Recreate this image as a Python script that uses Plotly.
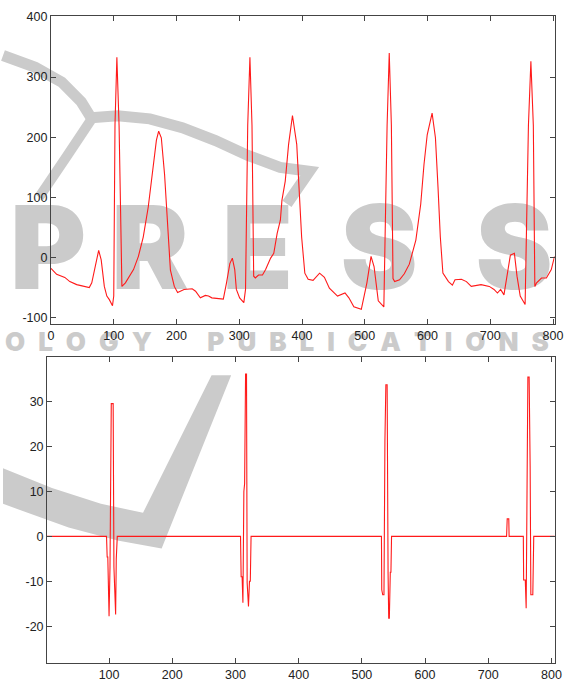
import plotly.graph_objects as go

# ---------------- data ----------------
ecg_x = [0, 9, 22, 30, 41, 51, 61, 65, 72, 76, 80, 85, 89, 93, 98, 100, 102, 105, 108.5, 111, 113,
         118.6, 123.7, 131.5, 139.3, 147, 155, 162.7, 168, 171.6, 175.8, 181, 186, 190.3, 196.5, 201.8,
         212, 225, 230.4, 238, 246, 251, 256.3, 274.6, 279.7, 285, 289, 292.8, 295.4, 300.6, 307.3,
         310, 313.5, 317, 320.3, 323, 325.6, 330.7, 337, 342, 350, 355, 360.4, 365.5, 368, 373.3, 378.6,
         384.8, 391.6, 395.2, 399.4, 404.5, 409.8, 417.6, 428, 435.7, 443.6, 456.6, 468.5, 474.7, 482.6,
         494.5, 503.4, 510, 514.8, 521.5, 530.4, 535.6, 539, 542.4, 545, 547.6, 555.4, 563, 571, 581.4,
         589.2, 594.4, 599.5, 607.3, 612.6, 616.7, 620.4, 624.5, 633.4, 639.6, 643.8, 654, 662, 669.7,
         685.3, 698.4, 706, 711.4, 716.5, 721.8, 727, 732, 738.4, 742.6, 747.7, 755.5, 760.8, 764.7,
         768.6, 771, 773.8, 781.6, 789.4, 797.2, 802.4]
ecg_y = [-18, -28, -33, -40, -45, -47, -50, -42, -10, 12, -4, -48, -64, -70, -80, -64, 220, 333, 220, 56, -48,
         -42, -34, -20, 2, 34, 84, 150, 195, 210, 199, 138, 56, -21, -48, -58,
         -53, -52, -56, -67, -63, -64, -67, -69, -42, -10, -1, -20, -53, -67, -75,
         -53, 220, 333, 220, -31, -34, -29, -29, -20, -1, 7, 40, 62, 95, 127, 188,
         236, 188, 117, 34, -26, -36, -38, -26, -33, -51, -64, -59, -67, -82,
         -86, -42, 2, -15, -72, -82, 220, 340, 220, -35, -40, -37, -27, -11, 29,
         89, 155, 204, 240, 199, 117, 34, -26, -40, -46, -37, -36, -40, -48,
         -45, -48, -53, -59, -53, -62, -26, 4, 7, -31, -64, -78, 220, 326,
         220, -48, -42, -34, -34, -20, 2]

det_x = [0, 96, 97, 98, 100, 101.5, 103.5, 106.5, 107.7, 109.3, 110.4, 111.4, 113,
         308, 309, 310.5, 311.8, 313.3, 314.5, 316, 317.5, 318, 318.5, 320.6, 322.2, 323.5, 324.7,
         531, 531.5, 533, 535, 536.5, 538, 540, 540.5, 541.5, 542.5, 543.5, 545, 546, 547,
         729, 730, 732.5, 733,
         755.5, 756, 758.6, 760, 761.2, 762.7, 764.7, 765.3, 766.3, 767.4, 770.5, 772, 806]
det_y = [0, 0, -4.6, -4.6, -17.8, -6.8, 29.6, 29.6, -6.8, -17.4, -17.4, -5, 0,
         0, -9, -9, -14.8, 10, 11.8, 36.2, 36.2, 12, -10.3, -15.6, -10, -10, 0,
         0, -11.9, -13, -13, 21.2, 33.8, 33.8, 0, -8.2, -18.2, -18.2, -8, -8, 0,
         0, 3.9, 3.9, 0,
         0, -9.7, -9.7, -16, 10.1, 35.5, 35.5, 15.6, 15.6, -13, -13, 0, 0]

top_xticks = [0, 100, 200, 300, 400, 500, 600, 700, 800]
top_yticks = [-100, 0, 100, 200, 300, 400]
bot_xticks = [100, 200, 300, 400, 500, 600, 700, 800]
bot_yticks = [-20, -10, 0, 10, 20, 30]

# watermark texts (background logo)
SP = "\u2002"
wm_text = ["P", "R", "E", "S", "S", SP.join("OLOGY"), SP.join("PUBLICATIONS")]

# ---------------- figure ----------------
W, H = 578, 684
RED = "#ff1a1a"
WM = "#cbcbcb"


def px(x):
    return x / W


def py(y):
    return 1 - y / H


fig = go.Figure()

# background watermark layer (full-page hidden axes, drawn first)
wm_x = [46, 150, 260, 384, 522, 77, 383]
wm_y = [257, 257, 257, 257, 257, 342, 342]
wm_size = [116, 116, 116, 116, 116, 26, 26]
fig.add_trace(go.Scatter(x=wm_x, y=wm_y, mode="text", text=wm_text,
                         textfont=dict(family="Inter, Lato, DejaVu Sans", size=wm_size, color=WM,
                                       weight=900),
                         textposition="middle center", xaxis="x", yaxis="y",
                         showlegend=False, hoverinfo="skip"))

fig.add_trace(go.Scatter(x=ecg_x, y=ecg_y, mode="lines", line=dict(color=RED, width=1.1),
                         xaxis="x2", yaxis="y2", showlegend=False, hoverinfo="skip"))
fig.add_trace(go.Scatter(x=det_x, y=det_y, mode="lines", line=dict(color=RED, width=1.1),
                         xaxis="x3", yaxis="y3", showlegend=False, hoverinfo="skip"))


def path(points, close=False):
    s = "M " + " L ".join(f"{px(a):.5f},{py(b):.5f}" for a, b in points)
    return s + (" Z" if close else "")


shapes = []
shapes.append(dict(type="path", xref="paper", yref="paper", layer="below",
                   path=path([(0, 50), (33, 62), (60, 77), (80, 97), (90, 113), (117, 111), (150, 114),
                              (183, 123), (217, 136), (250, 151), (283, 163), (313, 167), (290, 200)]),
                   line=dict(color=WM, width=11)))
shapes.append(dict(type="path", xref="paper", yref="paper", layer="below",
                   path=path([(90, 115), (65, 152), (37, 193)]),
                   line=dict(color=WM, width=10)))
shapes.append(dict(type="path", xref="paper", yref="paper", layer="below",
                   path=path([(0, 467), (50, 487), (100, 503), (143, 512), (213, 373), (233, 373),
                              (162, 548), (117, 540), (67, 527), (0, 503)], close=True),
                   fillcolor=WM, line=dict(width=0)))

axis_common = dict(showline=True, linecolor="#444444", linewidth=1, mirror="ticks",
                   ticks="inside", ticklen=5, tickwidth=1, tickcolor="#444444",
                   showgrid=False, zeroline=False,
                   tickfont=dict(family="Liberation Sans, Arial, sans-serif", size=12.5, color="#222222"))

hidden = dict(visible=False, showgrid=False, zeroline=False, fixedrange=True)

fig.update_layout(
    width=W, height=H,
    margin=dict(l=0, r=0, t=0, b=0),
    paper_bgcolor="white", plot_bgcolor="rgba(0,0,0,0)",
    showlegend=False,
    shapes=shapes,
    xaxis=dict(domain=[0, 1], range=[0, W], anchor="y", **hidden),
    yaxis=dict(domain=[0, 1], range=[H, 0], anchor="x", **hidden),
    xaxis2=dict(domain=[px(49), px(563.3)], range=[0, 802.5], anchor="y2",
                tickvals=top_xticks, ticktext=[str(v) for v in top_xticks], **axis_common),
    yaxis2=dict(domain=[py(321), py(10)], range=[-110, 401.6], anchor="x2",
                tickvals=top_yticks, ticktext=[str(v) for v in top_yticks], **axis_common),
    xaxis3=dict(domain=[px(45), px(563.3)], range=[1.9, 805], anchor="y3",
                tickvals=bot_xticks, ticktext=[str(v) for v in bot_xticks], **axis_common),
    yaxis3=dict(domain=[py(663.3), py(355)], range=[-28.1, 39.9], anchor="x3",
                tickvals=bot_yticks, ticktext=[str(v) for v in bot_yticks], **axis_common),
)

fig.write_html("out.html", config={"displayModeBar": False},
               post_script="document.body.style.margin='0px';document.body.style.overflow='hidden';")
